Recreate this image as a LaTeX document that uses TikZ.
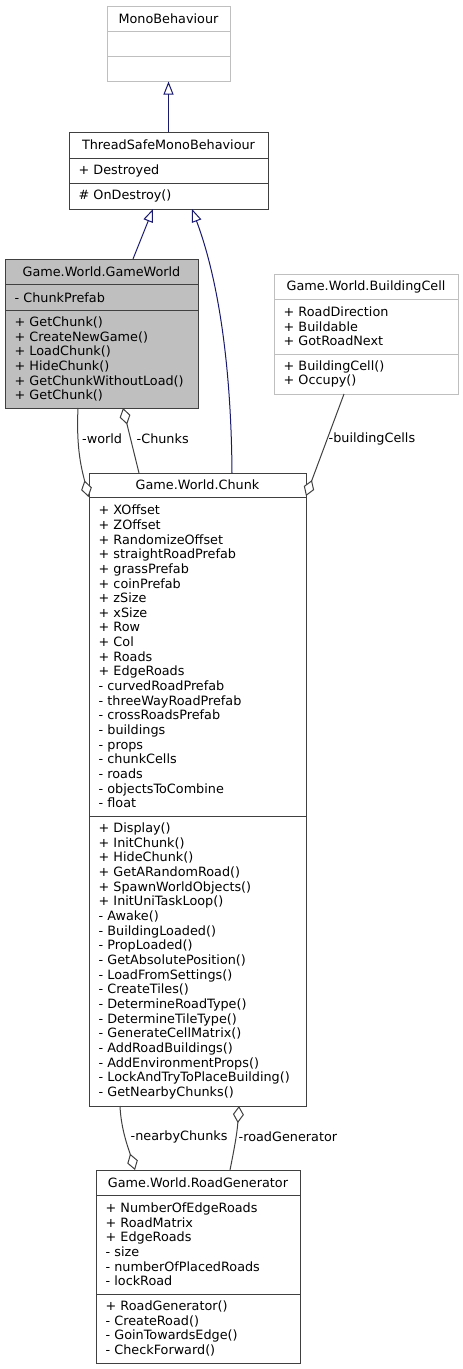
\documentclass[tikz,border=0pt]{standalone}
\usepackage{fontspec}
\setmainfont{DejaVu Sans}
\usetikzlibrary{arrows.meta, positioning, calc}
\definecolor{edgeblue}{HTML}{191970}
\definecolor{boxgray}{HTML}{BFBFBF}
\definecolor{linegray}{HTML}{404040}
\newcommand{\umlfont}{\fontsize{12.8}{14.65}\selectfont}
\tikzstyle{classtitle} = [
    rectangle, draw=linegray, line width=1pt, inner sep=0pt, outer sep=0pt,
    minimum height=25pt, align=center, font=\umlfont
]
\tikzstyle{members} = [
    rectangle, draw=linegray, line width=1pt, inner xsep=9.5pt, inner ysep=0pt,
    outer sep=0pt, align=left, font=\umlfont
]
\tikzstyle{faded} = [draw=boxgray]
\tikzstyle{current} = [fill=boxgray]
\tikzstyle{inherit} = [-{Triangle[open, length=13pt, width=10pt]}, edgeblue, line width=1pt]
\tikzstyle{aggr} = [{Diamond[fill=white, length=17pt, width=11pt]}-, linegray, line width=1pt]
\tikzstyle{rolelabel} = [font=\umlfont, inner sep=0pt, anchor=west]

\begin{document}
\begin{tikzpicture}[x=1pt, y=-1pt]
    \useasboundingbox (0,0) rectangle (463,1369);
    % Classes
    \node[classtitle, faded, minimum width=123pt, anchor=north west] (mono) at (107,6) {MonoBehaviour};
    \node[members, faded, text width=104pt, minimum height=25.5pt, below=0pt of mono] (monoattr) {};
    \node[members, faded, text width=104pt, minimum height=25pt, below=0pt of monoattr] (monoop) {};

    \node[classtitle, minimum width=199pt, minimum height=26pt, anchor=north west] (tsmb) at (69,132) {ThreadSafeMonoBehaviour};
    \node[members, text width=180pt, minimum height=25pt, below=0pt of tsmb] (tsmbattr) {+ Destroyed};
    \node[members, text width=180pt, minimum height=26pt, below=0pt of tsmbattr] (tsmbop) {\# OnDestroy()};

    \node[classtitle, current, minimum width=193pt, minimum height=25.5pt, anchor=north west] (gw) at (5,259) {Game.World.GameWorld};
    \node[members, current, text width=174pt, minimum height=25.5pt, below=0pt of gw] (gwattr) {- ChunkPrefab};
    \node[members, current, text width=174pt, minimum height=98pt, below=0pt of gwattr] (gwop) {+ GetChunk()\\+ CreateNewGame()\\+ LoadChunk()\\+ HideChunk()\\+ GetChunkWithoutLoad()\\+ GetChunk()};

    \node[classtitle, faded, minimum width=184pt, anchor=north west] (cell) at (274,274) {Game.World.BuildingCell};
    \node[members, faded, text width=165pt, minimum height=55pt, below=0pt of cell] (cellattr) {+ RoadDirection\\+ Buildable\\+ GotRoadNext};
    \node[members, faded, text width=165pt, minimum height=40pt, below=0pt of cellattr] (cellop) {+ BuildingCell()\\+ Occupy()};

    \node[classtitle, minimum width=217pt, minimum height=24pt, anchor=north west] (chunk) at (89,473) {Game.World.Chunk};
    \node[members, text width=198pt, minimum height=319pt, below=0pt of chunk] (chunkattr) {+ XOffset\\+ ZOffset\\+ RandomizeOffset\\+ straightRoadPrefab\\+ grassPrefab\\+ coinPrefab\\+ zSize\\+ xSize\\+ Row\\+ Col\\+ Roads\\+ EdgeRoads\\- curvedRoadPrefab\\- threeWayRoadPrefab\\- crossRoadsPrefab\\- buildings\\- props\\- chunkCells\\- roads\\- objectsToCombine\\- float};
    \node[members, text width=198pt, minimum height=290pt, below=0pt of chunkattr] (chunkop) {+ Display()\\+ InitChunk()\\+ HideChunk()\\+ GetARandomRoad()\\+ SpawnWorldObjects()\\+ InitUniTaskLoop()\\- Awake()\\- BuildingLoaded()\\- PropLoaded()\\- GetAbsolutePosition()\\- LoadFromSettings()\\- CreateTiles()\\- DetermineRoadType()\\- DetermineTileType()\\- GenerateCellMatrix()\\- AddRoadBuildings()\\- AddEnvironmentProps()\\- LockAndTryToPlaceBuilding()\\- GetNearbyChunks()};

    \node[classtitle, minimum width=204pt, anchor=north west] (rg) at (96,1170) {Game.World.RoadGenerator};
    \node[members, text width=185pt, minimum height=99pt, below=0pt of rg] (rgattr) {+ NumberOfEdgeRoads\\+ RoadMatrix\\+ EdgeRoads\\- size\\- numberOfPlacedRoads\\- lockRoad};
    \node[members, text width=185pt, minimum height=69pt, below=0pt of rgattr] (rgop) {+ RoadGenerator()\\- CreateRoad()\\- GoinTowardsEdge()\\- CheckForward()};

    % Inheritance
    \draw[inherit] (tsmb.north) -- (monoop.south);
    \draw[inherit] ($(gw.north west)+(128,0)$) -- ($(tsmbop.south west)+(84,0)$);
    \draw[inherit] ($(chunk.north west)+(143,0)$) .. controls (231,340) and (212,262) .. ($(tsmbop.south west)+(123,0)$);

    % Aggregation
    \draw[aggr] ($(chunk.north west)+(-0.5,24)$) .. controls (82,470) and (76,450) .. ($(gwop.south west)+(73,0)$);
    \draw[aggr] ($(gwop.south west)+(118,0)$) -- ($(chunk.north west)+(50,0)$);
    \draw[aggr] ($(chunk.north east)+(0,23)$) -- ($(cellop.south west)+(70,0)$);
    \draw[aggr] ($(rg.north west)+(39,0)$) .. controls (129,1150) and (121,1130) .. ($(chunkop.south west)+(31,0)$);
    \draw[aggr] ($(chunkop.south west)+(150,0)$) .. controls (237,1135) and (233,1155) .. ($(rg.north west)+(134,0)$);

    % Role labels
    \node[rolelabel] (lworld) at (82,439) {-world};
    \node[rolelabel] (lchunks) at (136.5,439) {-Chunks};
    \node[rolelabel] (lcells) at (328.5,439) {-buildingCells};
    \node[rolelabel] (lnearby) at (130.5,1137) {-nearbyChunks};
    \node[rolelabel] (lroadgen) at (238.5,1137) {-roadGenerator};
\end{tikzpicture}
\end{document}
